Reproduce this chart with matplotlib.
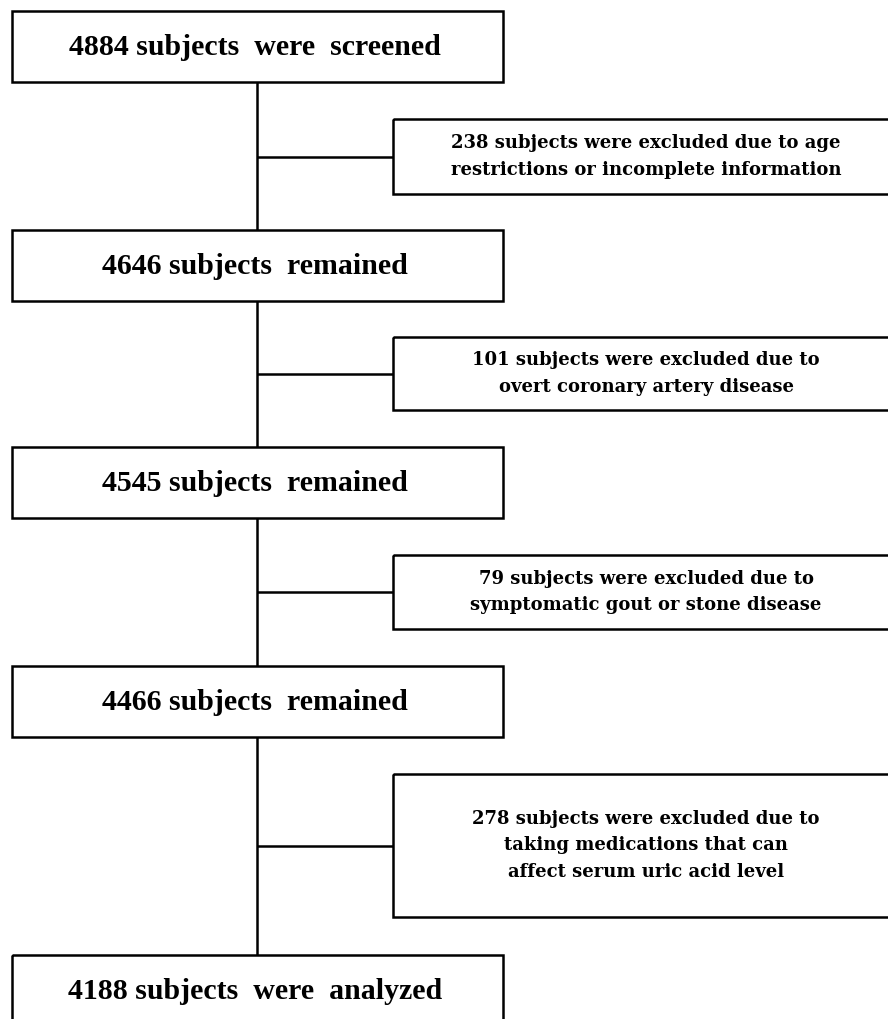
import matplotlib.pyplot as plt
from matplotlib.patches import Rectangle

# flow counts and texts
main_counts = [4884, 4646, 4545, 4466, 4188]
main_labels = ["subjects  were  screened", "subjects  remained", "subjects  remained",
               "subjects  remained", "subjects  were  analyzed"]
excluded_counts = [238, 101, 79, 278]
excluded_reasons = [
    "subjects were excluded due to age\nrestrictions or incomplete information",
    "subjects were excluded due to\novert coronary artery disease",
    "subjects were excluded due to\nsymptomatic gout or stone disease",
    "subjects were excluded due to\ntaking medications that can\naffect serum uric acid level",
]

# layout in pixels (y grows downward)
W, H = 888, 1019
main_x0, main_x1 = 12, 503
main_tops = [11, 230, 447, 666, 955]
main_h = 71
side_x0, side_x1 = 393, 900
side_boxes = [(119, 194), (337, 410), (555, 629), (774, 917)]
spine_x = 257
lw = 1.8

fig = plt.figure(figsize=(W / 100, H / 100), dpi=100)
ax = fig.add_axes([0, 0, 1, 1])
ax.set_xlim(0, W)
ax.set_ylim(H, 0)
ax.axis("off")

# vertical spine between main boxes
for i in range(len(main_tops) - 1):
    ax.plot([spine_x, spine_x], [main_tops[i] + main_h, main_tops[i + 1]],
            color="black", lw=lw, solid_capstyle="butt")

for top, n, lab in zip(main_tops, main_counts, main_labels):
    ax.add_patch(Rectangle((main_x0, top), main_x1 - main_x0, main_h,
                           fill=False, ec="black", lw=lw))
    ax.text(255, top + main_h / 2 + 1, f"{n} {lab}",
            ha="center", va="center", fontsize=21.5, fontweight="bold",
            family="Liberation Serif")

for (t, b), n, reason in zip(side_boxes, excluded_counts, excluded_reasons):
    ax.add_patch(Rectangle((side_x0, t), side_x1 - side_x0, b - t,
                           fill=False, ec="black", lw=lw))
    yc = (t + b) / 2
    ax.plot([spine_x, side_x0], [yc, yc], color="black", lw=lw,
            solid_capstyle="butt")
    ax.text(646, yc, f"{n} {reason}", ha="center", va="center",
            fontsize=13, fontweight="bold", family="DejaVu Serif",
            linespacing=1.62)

fig.savefig("out.png", dpi=100, facecolor="white")
